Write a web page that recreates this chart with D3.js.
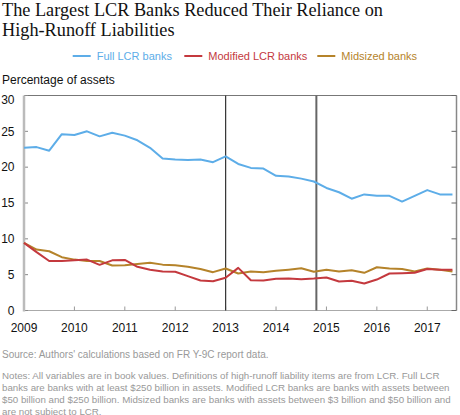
<!DOCTYPE html>
<html><head><meta charset="utf-8">
<script src="https://cdn.jsdelivr.net/npm/d3@7"></script>
<style>body{margin:0;background:#fff}svg{display:block}</style>
</head><body>
<svg id="c" width="460" height="415"></svg>
<script>
const seriesNames = ["Full LCR banks", "Modified LCR banks", "Midsized banks"];
const seriesColors = ["#5DADE8", "#C4393E", "#B5832A"];
const startYear = 2009;
const fullLCR = [22.7,22.8,22.3,24.6,24.5,25.0,24.3,24.8,24.4,23.75,22.7,21.2,
  21.06,21.0,21.06,20.7,21.5,20.45,19.9,19.8,18.8,18.7,18.4,18.0,
  17.1,16.5,15.6,16.2,16.0,16.0,15.2,16.0,16.8,16.2,16.2];
const modifiedLCR = [9.44,8.14,6.9,6.9,7.0,7.1,6.37,7.0,7.05,6.1,5.7,5.44,
  5.4,4.8,4.18,4.09,4.56,5.95,4.23,4.18,4.42,4.46,4.37,4.45,
  4.6,4.04,4.14,3.77,4.32,5.16,5.2,5.26,5.8,5.7,5.7];
const midsized = [9.44,8.5,8.27,7.44,7.1,6.9,6.9,6.28,6.3,6.5,6.65,6.4,
  6.3,6.1,5.8,5.35,5.86,5.16,5.44,5.35,5.53,5.7,5.9,5.4,
  5.7,5.44,5.63,5.26,6.04,5.86,5.8,5.44,5.86,5.7,5.44];
const xTicks = [2009,2010,2011,2012,2013,2014,2015,2016,2017];
const yTicks = [0,5,10,15,20,25,30];
const markerYears = [2013, 2014.8];
const titleLines = ["The Largest LCR Banks Reduced Their Reliance on", "High-Runoff Liabilities"];
const yLabel = "Percentage of assets";
const sourceText = "Source: Authors' calculations based on FR Y-9C report data.";
const notesLines = ["Notes: All variables are in book values. Definitions of high-runoff liability items are from LCR. Full LCR",
  "banks are banks with at least $250 billion in assets. Modified LCR banks are banks with assets between",
  "$50 billion and $250 billion. Midsized banks are banks with assets between $3 billion and $50 billion and",
  "are not subject to LCR."];

const svg = d3.select("#c");
const sans = "'Liberation Sans', Arial, sans-serif";
const x = d3.scaleLinear().domain([2009, 2017.58]).range([24, 456.5]);
const y = d3.scaleLinear().domain([0, 30]).range([310.5, 95.5]);

// title
const tSize = 18.5;
const titleEls = titleLines.map((t, i) => svg.append("text").attr("x", 2).attr("y", 15.5 + i * 20)
    .attr("font-family", "'Liberation Serif', 'Times New Roman', serif")
    .attr("font-size", tSize).attr("fill", "#111").text(t));
const tw = titleEls[0].node().getComputedTextLength();
const tFit = tSize * 381 / tw;
titleEls.forEach(el => el.attr("font-size", tFit));

// legend
const legX = [72.7, 184.3, 317.3];
seriesNames.forEach((n, i) => {
  svg.append("line").attr("x1", legX[i]).attr("x2", legX[i] + 18)
    .attr("y1", 56).attr("y2", 56).attr("stroke", seriesColors[i]).attr("stroke-width", 2);
  svg.append("text").attr("x", legX[i] + 24).attr("y", 60).attr("font-family", sans)
    .attr("font-size", 11).attr("fill", seriesColors[i]).text(n);
});

svg.append("text").attr("x", 2).attr("y", 83.5).attr("font-family", sans)
  .attr("font-size", 12).attr("fill", "#111").text(yLabel);

// frame
const x0 = x.range()[0], x1 = x.range()[1], yT = y(30), yB = y(0);
svg.append("line").attr("x1", x0).attr("x2", x1).attr("y1", yT).attr("y2", yT)
  .attr("stroke", "#777").attr("stroke-width", 1);
svg.append("line").attr("x1", x1).attr("x2", x1).attr("y1", yT).attr("y2", yB)
  .attr("stroke", "#888").attr("stroke-width", 1.5);
svg.append("line").attr("x1", x0).attr("x2", x1).attr("y1", yB).attr("y2", yB)
  .attr("stroke", "#aaa").attr("stroke-width", 1);

// y ticks left & right (inward)
yTicks.forEach(v => {
  svg.append("line").attr("x1", x0).attr("x2", x0 + 4).attr("y1", y(v)).attr("y2", y(v))
    .attr("stroke", "#888");
  svg.append("line").attr("x1", x1 - 5).attr("x2", x1).attr("y1", y(v)).attr("y2", y(v))
    .attr("stroke", "#666");
  svg.append("text").attr("x", 14.5).attr("y", y(v) + (v === 30 ? 4 : 0)).attr("dy", "0.36em")
    .attr("text-anchor", "end").attr("font-family", sans).attr("font-size", 12)
    .attr("fill", "#111").text(v);
});
// x ticks
xTicks.forEach(v => {
  svg.append("line").attr("x1", x(v)).attr("x2", x(v)).attr("y1", yB - 4).attr("y2", yB)
    .attr("stroke", "#999");
  svg.append("text").attr("x", x(v)).attr("y", 332).attr("text-anchor", "middle")
    .attr("font-family", sans).attr("font-size", 12).attr("fill", "#111").text(v);
});
// left axis line
svg.append("line").attr("x1", x0).attr("x2", x0).attr("y1", yT).attr("y2", yB + 1)
  .attr("stroke", "#bbb").attr("stroke-width", 2.5);

// marker lines
svg.append("line").attr("x1", x(markerYears[0])).attr("x2", x(markerYears[0]))
  .attr("y1", yT).attr("y2", yB).attr("stroke", "#333").attr("stroke-width", 1.2);
svg.append("line").attr("x1", x(markerYears[1])).attr("x2", x(markerYears[1]))
  .attr("y1", yT).attr("y2", yB).attr("stroke", "#666").attr("stroke-width", 2);

// series
const line = d3.line().x((d, i) => x(startYear + i * 0.25)).y(d => y(d));
[midsized, modifiedLCR, fullLCR].forEach((s, k) => {
  const ci = [2, 1, 0][k];
  svg.append("path").attr("d", line(s)).attr("fill", "none")
    .attr("stroke", seriesColors[ci]).attr("stroke-width", 2)
    .attr("stroke-linejoin", "round");
});

// source & notes
const src = svg.append("text").attr("x", 2).attr("y", 357.5).attr("font-family", sans)
  .attr("font-size", 10.5).attr("fill", "#999").text(sourceText);
const sw = src.node().getComputedTextLength();
src.attr("font-size", Math.min(10.5, 10.5 * 267 / sw));
const noteEls = notesLines.map((t, i) => svg.append("text").attr("x", 2).attr("y", 378.5 + i * 12)
  .attr("font-family", sans).attr("font-size", 10.5).attr("fill", "#999").text(t));
const nw = noteEls[2].node().getComputedTextLength();
const nFit = Math.min(10.5, 10.5 * 449 / nw);
noteEls.forEach(el => el.attr("font-size", nFit));
</script>
</body></html>
